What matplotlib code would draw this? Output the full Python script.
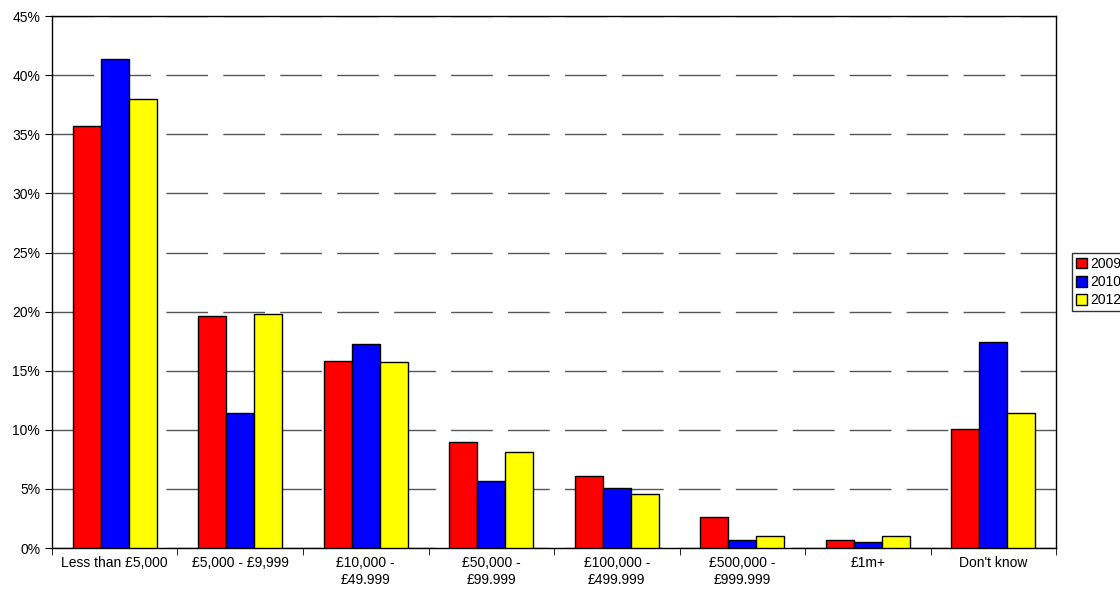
import matplotlib.pyplot as plt
import numpy as np

categories = ["Less than £5,000", "£5,000 - £9,999", "£10,000 -\n£49.999", "£50,000 -\n£99.999",
              "£100,000 -\n£499.999", "£500,000 -\n£999.999", "£1m+", "Don't know"]
years = ["2009", "2010", "2012"]
v2009 = [35.7, 19.6, 15.8, 9.0, 6.1, 2.6, 0.7, 10.1]
v2010 = [41.4, 11.4, 17.3, 5.7, 5.1, 0.7, 0.5, 17.4]
v2012 = [38.0, 19.8, 15.7, 8.1, 4.6, 1.0, 1.0, 11.4]
colors = ["#FF0000", "#0000FF", "#FFFF00"]

plt.rcParams["font.family"] = ["Liberation Sans", "DejaVu Sans"]
fig = plt.figure(figsize=(11.2, 5.96), dpi=100)
ax = fig.add_axes([0.0464, 0.0805, 0.8966, 0.8925])

x = np.arange(len(categories))
w = 0.223
for i, (vals, c, lab) in enumerate(zip([v2009, v2010, v2012], colors, years)):
    ax.bar(x + (i - 1) * w, vals, w, color=c, edgecolor="black", linewidth=1, label=lab, zorder=3)

ax.set_xlim(-0.5, len(categories) - 0.5)
ax.set_ylim(0, 45)
ax.set_yticks(np.arange(0, 46, 5))
ax.set_yticklabels([f"{t}%" for t in range(0, 46, 5)], fontsize=10)
ax.set_xticks(x)
ax.set_xticklabels(categories, fontsize=10)
ax.set_xticks(np.arange(-0.5, len(categories), 1), minor=True)
ax.tick_params(axis="x", which="major", length=0, pad=6)
ax.tick_params(axis="x", which="minor", length=5, direction="out")
ax.tick_params(axis="y", length=5, direction="out")
ax.yaxis.grid(True, color="#555555", linestyle=(0, (30, 11)), linewidth=1, zorder=0)
for s in ax.spines.values():
    s.set_color("black")
    s.set_linewidth(1)

leg = ax.legend(loc="center left", bbox_to_anchor=(1.009, 0.5), frameon=True, fancybox=False,
                edgecolor="black", fontsize=10, handlelength=0.8, handleheight=0.8,
                handletextpad=0.2, borderpad=0.3, labelspacing=0.3)
leg.get_frame().set_linewidth(1)

fig.savefig("out.png", dpi=100)
